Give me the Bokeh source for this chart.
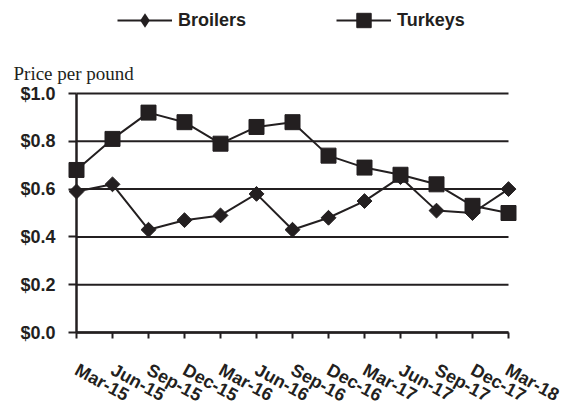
import math
from bokeh.plotting import figure
from bokeh.models import (FixedTicker, NumeralTickFormatter, Legend, LegendItem,
                          Range1d, ColumnDataSource, Label)
from bokeh.embed import file_html
from bokeh.resources import INLINE

quarters = ["Mar-15", "Jun-15", "Sep-15", "Dec-15", "Mar-16", "Jun-16", "Sep-16",
            "Dec-16", "Mar-17", "Jun-17", "Sep-17", "Dec-17", "Mar-18"]
broilers = [0.59, 0.62, 0.43, 0.47, 0.49, 0.58, 0.43, 0.48, 0.55, 0.65, 0.51, 0.50, 0.60]
turkeys = [0.68, 0.81, 0.92, 0.88, 0.79, 0.86, 0.88, 0.74, 0.69, 0.66, 0.62, 0.53, 0.50]
y_ticks = [0.0, 0.2, 0.4, 0.6, 0.8, 1.0]

INK = "#231f20"
SANS = "Liberation Sans"
FS = "18px"

W, H = 562, 405
PAD_L, PAD_R, PAD_T, PAD_B = 76, 54, 93, 73   # pixel room around the plotting area

xs = list(range(len(quarters)))
x_first, x_last = xs[0], xs[-1]
y_min, y_max = y_ticks[0], y_ticks[-1]
ux = (x_last - x_first) / (W - PAD_L - PAD_R)
uy = (y_max - y_min) / (H - PAD_T - PAD_B)

src = ColumnDataSource(dict(x=xs, b=broilers, t=turkeys))
grid_src = ColumnDataSource(dict(y=y_ticks, x0=[x_first] * len(y_ticks),
                                 x1=[x_last] * len(y_ticks)))

p = figure(width=W, height=H, output_backend="svg", toolbar_location=None,
           title=None, min_border=0,
           x_range=Range1d(x_first - PAD_L * ux, x_last + PAD_R * ux),
           y_range=Range1d(y_min - PAD_B * uy, y_max + PAD_T * uy))
p.outline_line_color = None
p.background_fill_color = None
p.border_fill_color = "white"
p.xgrid.visible = False
p.ygrid.visible = False

# horizontal grid lines across the data span
p.segment(x0="x0", x1="x1", y0="y", y1="y", source=grid_src,
          line_color=INK, line_width=2)

# y axis
p.yaxis.fixed_location = x_first
p.yaxis.bounds = (y_min, y_max)
p.yaxis.ticker = FixedTicker(ticks=y_ticks)
p.yaxis.formatter = NumeralTickFormatter(format="$0.0")
p.yaxis.axis_line_color = INK
p.yaxis.axis_line_width = 2.5
p.yaxis.major_tick_line_color = INK
p.yaxis.major_tick_line_width = 2
p.yaxis.major_tick_out = 8
p.yaxis.major_tick_in = 0
p.yaxis.minor_tick_line_color = None
p.yaxis.major_label_text_font = SANS
p.yaxis.major_label_text_font_style = "bold"
p.yaxis.major_label_text_font_size = FS
p.yaxis.major_label_text_color = INK
p.yaxis.major_label_standoff = 13

# x axis
p.xaxis.fixed_location = y_min
p.xaxis.bounds = (x_first, x_last)
p.xaxis.ticker = FixedTicker(ticks=xs)
p.xaxis.major_label_overrides = {i: q for i, q in zip(xs, quarters)}
p.xaxis.major_label_orientation = -0.5
p.xaxis.major_label_standoff = 30
p.xaxis.major_label_text_font = SANS
p.xaxis.major_label_text_font_style = "bold"
p.xaxis.major_label_text_font_size = FS
p.xaxis.major_label_text_color = INK
p.xaxis.axis_line_color = INK
p.xaxis.axis_line_width = 2.5
p.xaxis.major_tick_line_color = INK
p.xaxis.major_tick_line_width = 2
p.xaxis.major_tick_out = 6
p.xaxis.major_tick_in = 0
p.xaxis.minor_tick_line_color = None

# axis title
p.add_layout(Label(x=x_first, y=y_max, x_offset=-63, y_offset=20,
                   text="Price per pound", text_align="left",
                   text_baseline="alphabetic", text_font="Liberation Serif",
                   text_font_size="19px", text_color=INK))

# series
lb = p.line("x", "b", source=src, line_color=INK, line_width=2)
sb = p.scatter("x", "b", source=src, marker="square", angle=math.pi / 4, size=10.5,
               fill_color=INK, line_color=INK)
lt = p.line("x", "t", source=src, line_color=INK, line_width=2)
st = p.scatter("x", "t", source=src, marker="square", size=15,
               fill_color=INK, line_color=INK)
# legend key for the diamond (zero size in the plot itself)
kb = p.scatter("x", "b", source=src, marker="diamond", size=0,
               fill_color=INK, line_color=None)

legend = Legend(items=[LegendItem(label="Broilers", renderers=[lb, kb]),
                       LegendItem(label="Turkeys", renderers=[lt, st])],
                orientation="horizontal", location=(117, 367),
                glyph_width=55, glyph_height=36, label_standoff=6, spacing=90,
                padding=0, margin=0, border_line_color=None,
                background_fill_alpha=0,
                label_text_font=SANS, label_text_font_style="bold",
                label_text_font_size=FS, label_text_color=INK)
p.add_layout(legend, "center")

open("out.html", "w").write(file_html(p, INLINE))
